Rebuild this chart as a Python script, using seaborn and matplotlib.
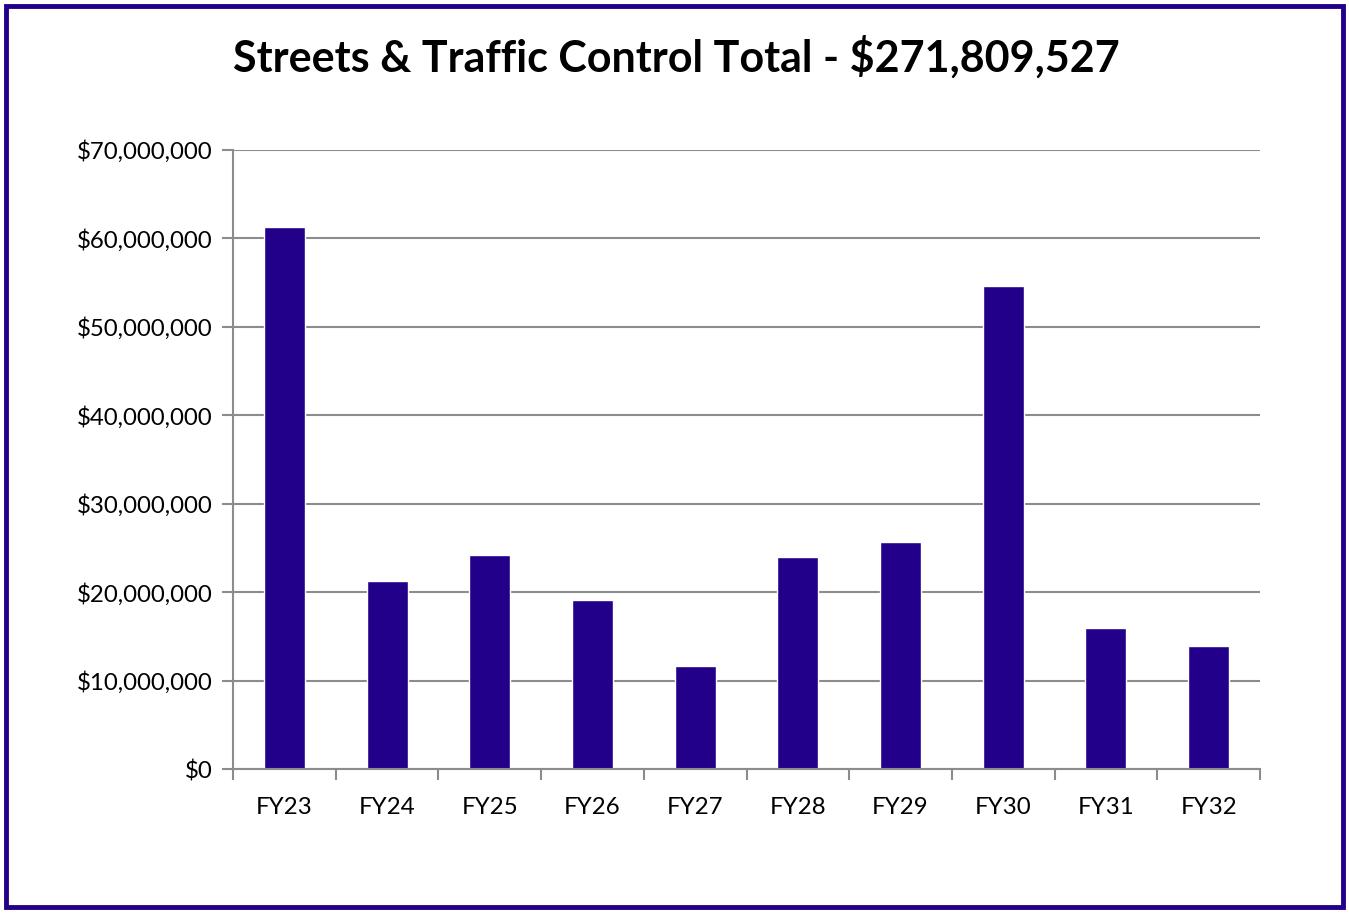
import matplotlib
matplotlib.use("Agg")
import matplotlib.pyplot as plt
import seaborn as sns
import pandas as pd
import numpy as np
from matplotlib.ticker import FuncFormatter, FixedLocator
from matplotlib.patches import Rectangle

categories = ["FY23", "FY24", "FY25", "FY26", "FY27", "FY28", "FY29", "FY30", "FY31", "FY32"]
values = [61.3e6, 21.3e6, 24.15e6, 19.15e6, 11.68e6, 24.0e6, 25.7e6, 54.65e6, 15.95e6, 13.92e6]
title = "Streets & Traffic Control Total - $271,809,527"

sns.set_theme(style="white")
plt.rcParams['font.family'] = ['Lato', 'DejaVu Sans']

bar_color = "#22008A"
grid_color = "#8C8C8C"

fig = plt.figure(figsize=(13.49, 9.13), dpi=100)
ax = fig.add_axes([233/1349, 1-769/913, (1260-233)/1349, (769-150)/913])

df = pd.DataFrame({"cat": categories, "val": values})
sns.barplot(data=df, x="cat", y="val", color=bar_color, width=0.4, saturation=1, ax=ax)

ax.set_xlim(-0.5, len(categories) - 0.5)
ax.set_ylim(0, 70e6)
ax.set_yticks(np.arange(0, 70e6 + 1, 10e6))
ax.yaxis.set_major_formatter(FuncFormatter(lambda v, p: f"${v:,.0f}"))
ax.grid(axis="y", color=grid_color, linewidth=1.5)
ax.set_axisbelow(True)
ax.set_xlabel("")
ax.set_ylabel("")

for s in ["top", "right"]:
    ax.spines[s].set_visible(False)
for s in ["left", "bottom"]:
    ax.spines[s].set_color(grid_color)
    ax.spines[s].set_linewidth(1.5)

ax.tick_params(axis="y", which="major", length=8, width=1.5, color=grid_color,
               labelsize=17.3, pad=7, left=True)
ax.tick_params(axis="x", which="major", length=0, labelsize=17.3, pad=20)
ax.xaxis.set_minor_locator(FixedLocator(np.arange(-0.5, len(categories), 1.0)))
ax.tick_params(axis="x", which="minor", length=8, width=1.5, color=grid_color, bottom=True)
for lab in ax.get_xticklabels() + ax.get_yticklabels():
    lab.set_color("black")

fig.text(676/1349, 1-57/913, title, ha="center", va="center",
         fontsize=31, fontweight="bold", color="black")

fig.patches.append(Rectangle((6/1349, 6/913), 1-12/1349, 1-12/913,
                             transform=fig.transFigure, fill=False,
                             edgecolor=bar_color, linewidth=3.5))

fig.savefig("out.png", dpi=100)
